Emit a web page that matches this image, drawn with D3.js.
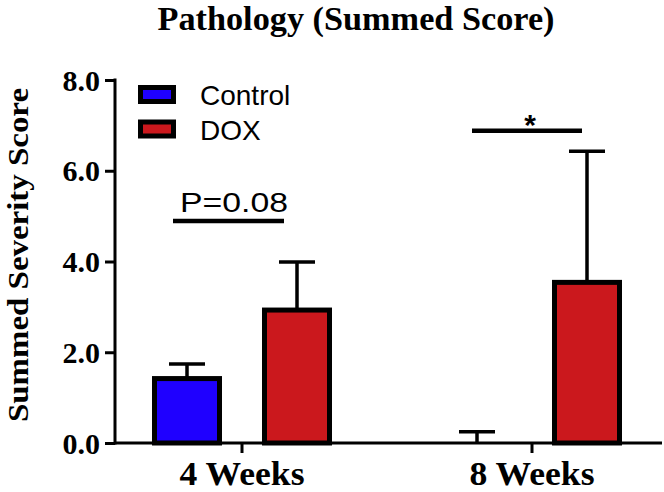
<!DOCTYPE html>
<html>
<head>
<meta charset="utf-8">
<script src="https://cdn.jsdelivr.net/npm/d3@7"></script>
<style>
  html, body { margin: 0; padding: 0; background: #fff; }
  svg { display: block; }
</style>
</head>
<body>
<svg id="chart" width="664" height="492"></svg>
<script>
// ---- data ----
const categories = ["4 Weeks", "8 Weeks"];
const seriesNames = ["Control", "DOX"];
const controlMeans = [1.42, 0];
const controlErrors = [0.32, 0.25];
const doxMeans = [2.93, 3.54];
const doxErrors = [1.06, 2.89];
const yTicks = [0, 2, 4, 6, 8];
const sigLabels = ["P=0.08", "*"];
const sigLevels = [4.89, 6.88];

const colors = { "Control": "#1F00FF", "DOX": "#CB181D" };
const serif = "'Liberation Serif','Times New Roman',Times,serif";
const sans = "'Liberation Sans',Arial,Helvetica,sans-serif";

const svg = d3.select("#chart");

const axisX = 115, axisY = 443, topY = 80, rightX = 662;

const y = d3.scaleLinear().domain([0, 8]).range([axisY, topY]);
const x0 = d3.scaleBand().domain(categories).range([97, 677]).paddingInner(0).paddingOuter(0);
const x1 = d3.scalePoint().domain(seriesNames).range([-55, 55]);
const barW = 65;

const data = [];
categories.forEach((c, i) => {
  data.push({ cat: c, s: "Control", v: controlMeans[i], e: controlErrors[i] });
  data.push({ cat: c, s: "DOX", v: doxMeans[i], e: doxErrors[i] });
});
const cx = d => x0(d.cat) + x0.bandwidth() / 2 + x1(d.s);

// title
svg.append("text")
  .attr("x", 356).attr("y", 29.5)
  .attr("text-anchor", "middle")
  .attr("font-family", serif).attr("font-weight", "bold").attr("font-size", 33)
  .attr("textLength", 397).attr("lengthAdjust", "spacingAndGlyphs")
  .text("Pathology (Summed Score)");

// y label
svg.append("text")
  .attr("transform", `translate(27.5,255) rotate(-90)`)
  .attr("text-anchor", "middle")
  .attr("font-family", serif).attr("font-weight", "bold").attr("font-size", 30)
  .attr("textLength", 334).attr("lengthAdjust", "spacingAndGlyphs")
  .text("Summed Severity Score");

// error bars (behind bars)
const eg = svg.append("g").attr("stroke", "#000").attr("stroke-width", 3.5);
eg.selectAll("line.v").data(data).join("line")
  .attr("x1", cx).attr("x2", cx)
  .attr("y1", d => y(d.v)).attr("y2", d => y(d.v + d.e));
eg.selectAll("line.c").data(data).join("line")
  .attr("x1", d => cx(d) - 18).attr("x2", d => cx(d) + 18)
  .attr("y1", d => y(d.v + d.e)).attr("y2", d => y(d.v + d.e));

// bars
svg.append("g").selectAll("rect").data(data).join("rect")
  .attr("x", d => cx(d) - barW / 2)
  .attr("width", barW)
  .attr("y", d => y(d.v))
  .attr("height", d => y(0) - y(d.v))
  .attr("fill", d => colors[d.s])
  .attr("stroke", "#000").attr("stroke-width", 5);

// y axis
const yAxis = d3.axisLeft(y).tickValues(yTicks).tickFormat(d3.format(".1f")).tickSize(10).tickPadding(5);
const yg = svg.append("g").attr("transform", `translate(${axisX},0)`).call(yAxis);
yg.select(".domain").remove();
yg.selectAll(".tick line").attr("stroke", "#000").attr("stroke-width", 3);
yg.selectAll(".tick text")
  .attr("font-family", serif).attr("font-weight", "bold").attr("font-size", 30)
  .attr("fill", "#000").attr("dy", "0.34em");
svg.append("line").attr("x1", axisX).attr("x2", axisX).attr("y1", topY - 1.5).attr("y2", axisY + 1.5)
  .attr("stroke", "#000").attr("stroke-width", 3);

// x axis
svg.append("line").attr("x1", axisX).attr("x2", rightX).attr("y1", axisY).attr("y2", axisY)
  .attr("stroke", "#000").attr("stroke-width", 3);
const xg = svg.append("g");
categories.forEach(c => {
  const px = x0(c) + x0.bandwidth() / 2;
  xg.append("line").attr("x1", px).attr("x2", px).attr("y1", axisY).attr("y2", axisY + 10)
    .attr("stroke", "#000").attr("stroke-width", 3);
  xg.append("text").attr("x", px).attr("y", 484.5).attr("text-anchor", "middle")
    .attr("font-family", serif).attr("font-weight", "bold").attr("font-size", 33)
    .attr("textLength", 125).attr("lengthAdjust", "spacingAndGlyphs")
    .text(c);
});

// legend
seriesNames.forEach((s, i) => {
  const ly = 87.5 + i * 34.5;
  svg.append("rect").attr("x", 140.5).attr("y", ly).attr("width", 33).attr("height", 14)
    .attr("fill", colors[s]).attr("stroke", "#000").attr("stroke-width", 5);
  svg.append("text").attr("x", 200).attr("y", ly + 17.5)
    .attr("font-family", sans).attr("font-size", 28).attr("fill", "#000")
    .text(s);
});

// significance annotations
const sigSpans = [[173, 284], [472, 582]];
sigLabels.forEach((lab, i) => {
  const ly = y(sigLevels[i]);
  const [a, b] = sigSpans[i];
  svg.append("line").attr("x1", a).attr("x2", b).attr("y1", ly).attr("y2", ly)
    .attr("stroke", "#000").attr("stroke-width", 4.5);
  const t = svg.append("text").attr("font-family", sans).attr("fill", "#000");
  if (lab === "*") {
    t.attr("x", 530).attr("y", ly + 4).attr("text-anchor", "middle")
      .attr("font-size", 30).attr("font-weight", "bold").text(lab);
  } else {
    t.attr("x", 180).attr("y", ly - 9).attr("font-size", 28)
      .attr("textLength", 108).attr("lengthAdjust", "spacingAndGlyphs").text(lab);
  }
});
</script>
</body>
</html>
